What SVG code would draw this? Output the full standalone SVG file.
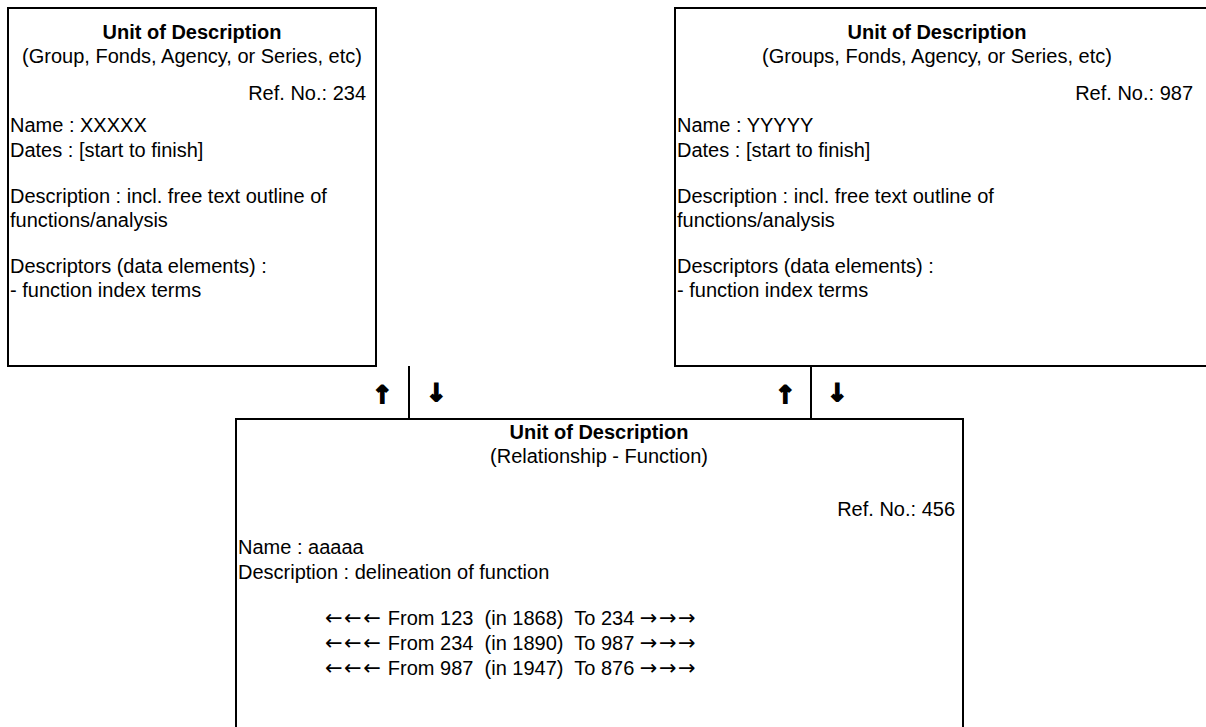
<svg xmlns="http://www.w3.org/2000/svg" width="1206" height="727" viewBox="0 0 1206 727">
<style>
text{font-family:"Liberation Sans",Arial,sans-serif;font-size:20px;fill:#000;white-space:pre}
.b{font-weight:bold}
.m{text-anchor:middle}
.r{text-anchor:end}
.box{fill:#fff;stroke:#000;stroke-width:2}
.ln{stroke:#000;stroke-width:2;fill:none}
.ar{font-family:"DejaVu Sans",sans-serif;font-weight:bold;font-size:24px;stroke:#000;stroke-width:1.8;stroke-linejoin:miter;text-anchor:middle}
.g{font-family:"DejaVu Sans",sans-serif;font-size:21px;letter-spacing:1.5px}
</style>
<g id="connectors">
<line class="ln" x1="409" y1="366" x2="409" y2="419"/>
<line class="ln" x1="811" y1="366" x2="811" y2="419"/>
<text class="ar" x="382" y="403">↑</text>
<text class="ar" x="436" y="401">↓</text>
<text class="ar" x="785" y="403">↑</text>
<text class="ar" x="837" y="401">↓</text>
</g>
<g id="unit234">
<rect class="box" x="8" y="8" width="368" height="358"/>
<text class="b m" x="192" y="39">Unit of Description</text>
<text class="m" x="192" y="63">(Group, Fonds, Agency, or Series, etc)</text>
<text class="r" x="366" y="100">Ref. No.: 234</text>
<text x="10" y="132">Name : XXXXX</text>
<text x="10" y="157">Dates : [start to finish]</text>
<text x="10" y="203">Description : incl. free text outline of</text>
<text x="10" y="227">functions/analysis</text>
<text x="10" y="273">Descriptors (data elements) :</text>
<text x="10" y="297">- function index terms</text>
</g>
<g id="unit987">
<rect class="box" x="675" y="8" width="600" height="358"/>
<text class="b m" x="937" y="39">Unit of Description</text>
<text class="m" x="937" y="63">(Groups, Fonds, Agency, or Series, etc)</text>
<text class="r" x="1193" y="100">Ref. No.: 987</text>
<text x="677" y="132">Name : YYYYY</text>
<text x="677" y="157">Dates : [start to finish]</text>
<text x="677" y="203">Description : incl. free text outline of</text>
<text x="677" y="227">functions/analysis</text>
<text x="677" y="273">Descriptors (data elements) :</text>
<text x="677" y="297">- function index terms</text>
</g>
<g id="unit456">
<rect class="box" x="236" y="419" width="727" height="400"/>
<text class="b m" x="599" y="439">Unit of Description</text>
<text class="m" x="599" y="463">(Relationship - Function)</text>
<text class="r" x="955" y="516">Ref. No.: 456</text>
<text x="238" y="554">Name : aaaaa</text>
<text x="238" y="579">Description : delineation of function</text>
<text x="325" y="625"><tspan class="g">←←←</tspan> From 123  (in 1868)  To 234 <tspan class="g">→→→</tspan></text>
<text x="325" y="650"><tspan class="g">←←←</tspan> From 234  (in 1890)  To 987 <tspan class="g">→→→</tspan></text>
<text x="325" y="675"><tspan class="g">←←←</tspan> From 987  (in 1947)  To 876 <tspan class="g">→→→</tspan></text>
</g>
</svg>
